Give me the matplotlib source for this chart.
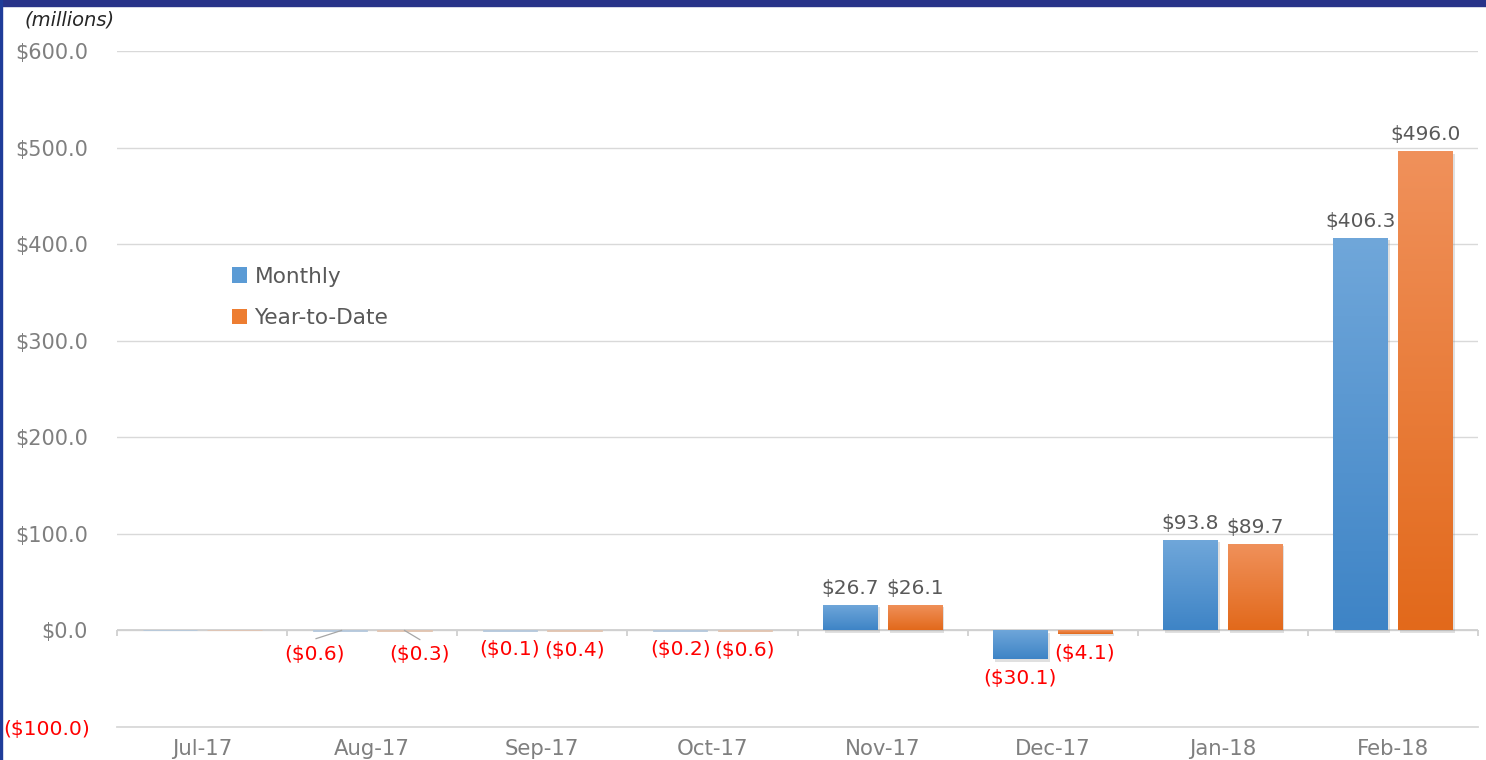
import matplotlib
matplotlib.use("Agg")
import matplotlib.pyplot as plt
import numpy as np
from matplotlib.patches import Rectangle, Patch
import matplotlib.patheffects as pe
import matplotlib.transforms as mtransforms
from matplotlib.colors import LinearSegmentedColormap

months = ["Jul-17", "Aug-17", "Sep-17", "Oct-17", "Nov-17", "Dec-17", "Jan-18", "Feb-18"]
monthly = [0.3, -0.6, -0.1, -0.2, 26.7, -30.1, 93.8, 406.3]
ytd = [0.3, -0.3, -0.4, -0.6, 26.1, -4.1, 89.7, 496.0]
show_label = [False, True, True, True, True, True, True, True]
yticks = [-100, 0, 100, 200, 300, 400, 500, 600]

def money(v):
    return f"(${abs(v):.1f})" if v < 0 else f"${v:.1f}"

GRAY = "#7f7f7f"
RED = "#ff0000"

fig = plt.figure(figsize=(14.86, 7.6), dpi=100)
fig.patch.set_facecolor("white")
ax = fig.add_axes([117/1486, 1-727/760, (1478-117)/1486, (727-51)/760])

x = np.arange(len(months))
w = 0.32
off = 0.19

blue_cmap = LinearSegmentedColormap.from_list("b", ["#3e84c6", "#70a7da"])
orange_cmap = LinearSegmentedColormap.from_list("o", ["#e2691b", "#f0915b"])

def draw(series, sign, cmap, base, faint):
    bars = ax.bar(x + sign*off, series, width=w, color=base, zorder=3,
                  path_effects=[pe.SimplePatchShadow(offset=(1.5, -1.5), shadow_rgbFace="#999999", alpha=0.3), pe.Normal()])
    grad = np.linspace(0, 1, 256).reshape(-1, 1)
    for b in bars:
        x0, y0 = b.get_x(), b.get_y()
        bw, bh = b.get_width(), b.get_height()
        if abs(bh) < 2:
            b.set_path_effects([])
            b.set_facecolor(faint)
            b.set_edgecolor(faint)
            b.set_linewidth(0.6)
            continue
        lo, hi = min(y0, y0+bh), max(y0, y0+bh)
        im = ax.imshow(grad, extent=[x0, x0+bw, lo, hi], origin="lower", aspect="auto",
                       cmap=cmap, zorder=4, interpolation="bilinear")
        im.set_clip_path(b)
    return bars

draw(monthly, -1, blue_cmap, "#5b9bd5", "#b4c8dc")
draw(ytd, 1, orange_cmap, "#ed7d31", "#e2c4b0")
ax.set_xlim(-0.5, len(months)-0.5)
ax.set_ylim(-100, 600)

ax.set_yticks(yticks)
ax.yaxis.grid(True, color="#d9d9d9", linewidth=1, zorder=0)
ax.set_axisbelow(True)
for s in ax.spines.values():
    s.set_visible(False)
ax.axhline(0, color="#d0d0d0", linewidth=1.3, zorder=2)
ax.axhline(-100, color="#d9d9d9", linewidth=1.3, zorder=2, clip_on=False)
ax.vlines(np.arange(len(months)+1)-0.5, -5.5, 0, color="#d0d0d0", linewidth=1.3, zorder=2, clip_on=False)

ax.tick_params(axis="y", length=0, pad=21)
ax.set_yticklabels([money(v) for v in yticks], fontsize=15)
for t, v in zip(ax.get_yticklabels(), yticks):
    t.set_color(RED if v < 0 else GRAY)
    if v < 0:
        t.set_fontsize(14.6)
        t.set_transform(t.get_transform() + mtransforms.ScaledTranslation(2/100, 0, fig.dpi_scale_trans))

ax.set_xticks(x)
ax.set_xticklabels(months, fontsize=15.3, color=GRAY)
ax.tick_params(axis="x", length=0, pad=8.5)

for i in range(len(months)):
    for val, sign in ((monthly[i], -1), (ytd[i], 1)):
        if not show_label[i]:
            continue
        xc = x[i] + sign*off
        dx = 0
        if i == 1:
            dx = -18 if sign < 0 else 11
        if val >= 0:
            ax.annotate(money(val), (xc, val), xytext=(dx, 5), textcoords="offset points",
                        ha="center", va="bottom", fontsize=14.5, color="#595959", zorder=6)
        else:
            ax.annotate(money(val), (xc, val), xytext=(dx, -7 if i != 1 else -10), textcoords="offset points",
                        ha="center", va="top", fontsize=14.5, color=RED, zorder=6)

ax.plot([1 - off + 0.01, 1 - off - 0.14], [0, -8.5], color="#a6a6a6", lw=0.9, zorder=5)
ax.plot([1 + off, 1 + off + 0.09], [0, -9.5], color="#a6a6a6", lw=0.9, zorder=5)

handles = [Patch(facecolor="#5b9bd5"), Patch(facecolor="#ed7d31")]
ax.legend(handles, ["Monthly", "Year-to-Date"], loc="upper left",
          bbox_to_anchor=(106/1361, 1-(207/676)), frameon=False, fontsize=15.6,
          labelspacing=1.0, handlelength=0.7, handleheight=0.7, handletextpad=0.35,
          labelcolor="#595959", borderaxespad=0)

fig.text(25/1486, 1-20/760, "(millions)", fontsize=14, style="italic", color="#262626",
         va="center", ha="left")

fig.add_artist(Rectangle((0, 1-6/760), 1, 6/760, transform=fig.transFigure, color="#283389", zorder=10))
fig.add_artist(Rectangle((0, 0), 2/1486, 1, transform=fig.transFigure, color="#1f3c99", zorder=10))

fig.savefig("out.png", dpi=100)
